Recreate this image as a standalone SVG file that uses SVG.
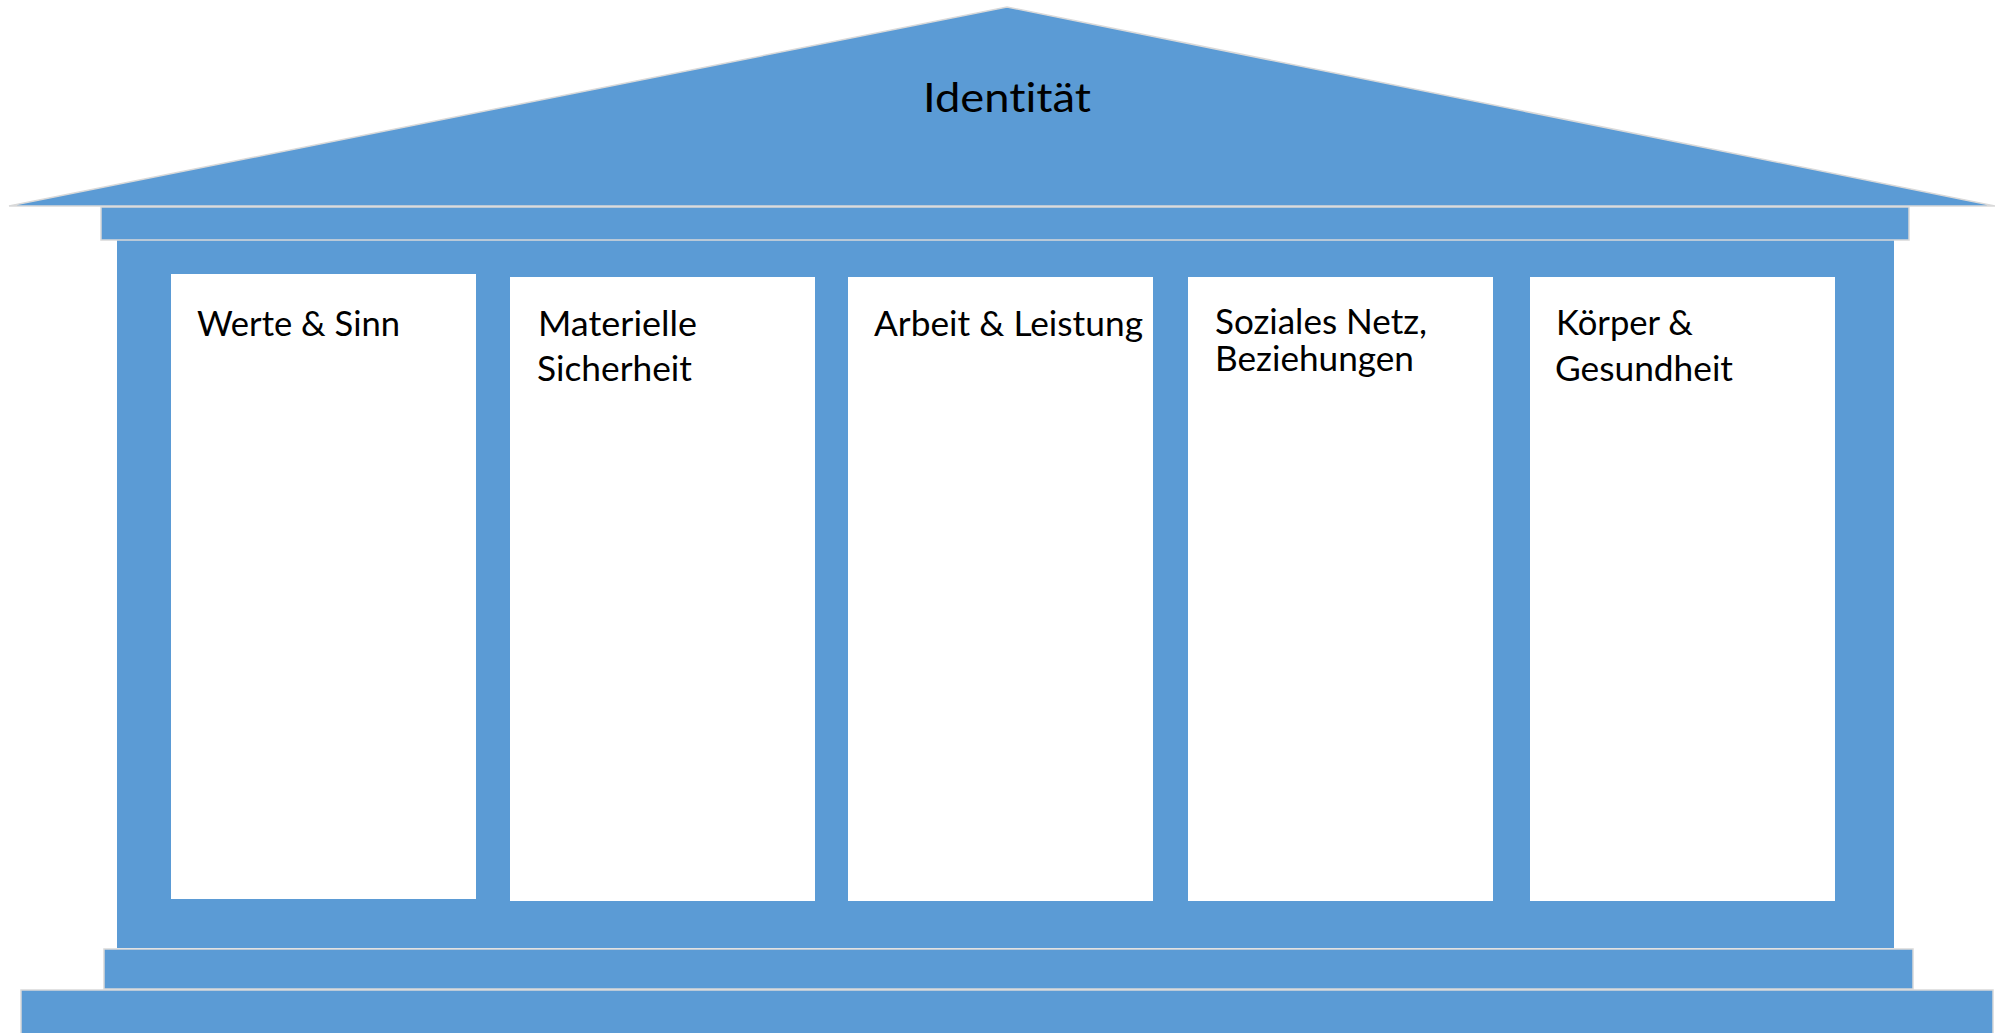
<svg xmlns="http://www.w3.org/2000/svg" width="1995" height="1033" viewBox="0 0 1995 1033">
<style>
.blue{fill:#5B9BD5;stroke:#d9d9d9;stroke-width:1.5}
.body{fill:#5B9BD5}
.panel{fill:#ffffff}
.lbl{font-family:Lato,"Open Sans","Liberation Sans",sans-serif;font-size:34px;fill:#000000;font-variant-ligatures:none}
.title{font-family:Lato,"Open Sans","Liberation Sans",sans-serif;font-size:40px;fill:#000000;font-variant-ligatures:none}
</style>
<rect width="1995" height="1033" fill="#ffffff"/>
<g id="base2"><rect class="blue" x="21" y="990" width="1972" height="50"/></g>
<g id="base1"><rect class="blue" x="104" y="949" width="1809" height="40"/></g>
<g id="body"><rect class="body" x="117" y="240" width="1777" height="708"/></g>
<g id="entablature"><rect class="blue" x="101" y="207" width="1808" height="33"/></g>
<g id="roof">
<polygon class="blue" points="9,206 1007,7 1995,206"/>
<text class="title" x="923" y="112" textLength="168" lengthAdjust="spacingAndGlyphs">Identität</text>
</g>
<g id="pillar1">
<rect class="panel" x="171" y="274" width="305" height="625"/>
<text class="lbl" x="197" y="336" textLength="203" lengthAdjust="spacingAndGlyphs">Werte &amp; Sinn</text>
</g>
<g id="pillar2">
<rect class="panel" x="510" y="277" width="305" height="624"/>
<text class="lbl" x="538" y="336" textLength="159" lengthAdjust="spacingAndGlyphs">Materielle</text>
<text class="lbl" x="537" y="381" textLength="155" lengthAdjust="spacingAndGlyphs">Sicherheit</text>
</g>
<g id="pillar3">
<rect class="panel" x="848" y="277" width="305" height="624"/>
<text class="lbl" x="874" y="336" textLength="269" lengthAdjust="spacingAndGlyphs">Arbeit &amp; Leistung</text>
</g>
<g id="pillar4">
<rect class="panel" x="1188" y="277" width="305" height="624"/>
<text class="lbl" x="1215" y="334" textLength="212" lengthAdjust="spacingAndGlyphs">Soziales Netz,</text>
<text class="lbl" x="1215" y="371" textLength="199" lengthAdjust="spacingAndGlyphs">Beziehungen</text>
</g>
<g id="pillar5">
<rect class="panel" x="1530" y="277" width="305" height="624"/>
<text class="lbl" x="1556" y="335" textLength="137" lengthAdjust="spacingAndGlyphs">Körper &amp;</text>
<text class="lbl" x="1555" y="381" textLength="178" lengthAdjust="spacingAndGlyphs">Gesundheit</text>
</g>
<g id="connectors"></g>
</svg>
